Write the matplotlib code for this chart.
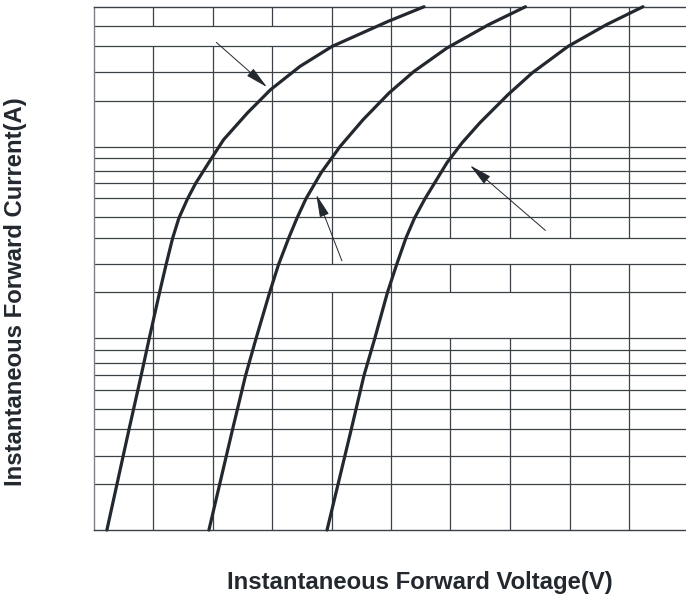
import matplotlib.pyplot as plt
from matplotlib.patches import Rectangle
from matplotlib.ticker import NullLocator

plt.rcParams['font.family'] = ['Liberation Sans', 'DejaVu Sans']

# ----------------------------
# Curves (forward voltage V, forward current A)
# ----------------------------
curve1_v = [0.045, 0.119, 0.160, 0.187, 0.222, 0.244, 0.266, 0.287, 0.316,
            0.343, 0.387, 0.437, 0.518, 0.595, 0.694, 0.802, 0.990, 1.111]
curve1_i = [0.1, 0.333, 0.639, 0.994, 1.735, 2.429, 3.336, 4.243, 5.35,
            6.43, 8.25, 10.88, 15.05, 19.85, 26.27, 33.41, 45.11, 53.8]

curve2_v = [0.388, 0.467, 0.511, 0.546, 0.592, 0.622, 0.656, 0.684, 0.714,
            0.765, 0.829, 0.906, 0.993, 1.077, 1.188, 1.328, 1.452]
curve2_i = [0.1, 0.333, 0.639, 0.994, 1.735, 2.429, 3.336, 4.243, 5.35,
            7.315, 10.04, 13.84, 19.07, 24.73, 32.76, 43.36, 53.8]

curve3_v = [0.785, 0.866, 0.909, 0.945, 0.988, 1.019, 1.050, 1.079, 1.114,
            1.188, 1.239, 1.299, 1.393, 1.474, 1.595, 1.724, 1.847]
curve3_i = [0.1, 0.333, 0.639, 0.994, 1.735, 2.429, 3.336, 4.243, 5.35,
            8.25, 10.49, 13.35, 18.68, 24.26, 33.41, 43.36, 53.8]

# pointer arrows (no text on them in the source)
arrow_tail_v = [0.413, 0.835, 1.519]
arrow_tail_i = [35.05, 2.54, 3.66]
arrow_tip_v = [0.583, 0.749, 1.266]
arrow_tip_i = [20.5, 5.62, 7.99]

# grid of the datasheet paper
X_GRID = [0.2, 0.4, 0.6, 0.8, 1.0, 1.2, 1.4, 1.6, 1.8]
DECADES = [0.1, 1.0, 10.0]
MANTISSA = [1.738, 2.443, 3.350, 4.285, 5.383, 6.457, 7.482, 8.690]
Y_MIN, Y_MAX = 0.1, 53.83

# blank patches where the original tick labels were removed: (v0, v1, i0, i1)
blank_boxes = [
    (0.003, 0.75, 33.50, 42.85),
    (1.005, 2.10, 2.443, 3.350),
    (0.70, 0.995, 1.738, 2.443),
    (1.10, 1.595, 1.0, 1.738),
]

LINE = '#23282f'
GRID = '#3c4047'

# ----------------------------
# Plotting
# ----------------------------
W, H = 686, 596
fig = plt.figure(figsize=(W / 100, H / 100), dpi=100)
ax = fig.add_axes([93.5 / W, 66 / H, 595 / W, 523.3 / H])
ax.set_yscale('log')
ax.set_xlim(0, 2.0)
ax.set_ylim(Y_MIN, Y_MAX)

for xv in X_GRID:
    ax.axvline(xv, color=GRID, lw=0.9, zorder=1)

for v0, v1, i0, i1 in blank_boxes:
    ax.add_patch(Rectangle((v0, i0), v1 - v0, i1 - i0, facecolor='white',
                           edgecolor='none', zorder=1.5))

for d in DECADES:
    for m in [1.0] + MANTISSA:
        yv = d * m
        if Y_MIN < yv < Y_MAX:
            ax.axhline(yv, color=GRID, lw=0.9, zorder=2)

for vs, cs in [(curve1_v, curve1_i), (curve2_v, curve2_i), (curve3_v, curve3_i)]:
    ax.plot(vs, cs, color=LINE, lw=2.3, solid_capstyle='round',
            solid_joinstyle='round', zorder=3, clip_on=False)

for tv, ti, hv, hi in zip(arrow_tail_v, arrow_tail_i, arrow_tip_v, arrow_tip_i):
    ax.annotate('', xy=(hv, hi), xytext=(tv, ti),
                arrowprops=dict(arrowstyle='-|>,head_length=1.4,head_width=0.3',
                                mutation_scale=10, color=LINE, lw=0.7,
                                shrinkA=0, shrinkB=0), zorder=4)

ax.xaxis.set_major_locator(NullLocator())
ax.xaxis.set_minor_locator(NullLocator())
ax.yaxis.set_major_locator(NullLocator())
ax.yaxis.set_minor_locator(NullLocator())
ax.spines['left'].set_color('#7d8187')
for s in ['top', 'bottom', 'right']:
    ax.spines[s].set_color(GRID)
for s in ax.spines.values():
    s.set_linewidth(1.0)

fig.text(420 / W, 1 - 582 / H, 'Instantaneous Forward Voltage(V)',
         ha='center', va='center', fontsize=17.2, fontweight='bold', color='#23282f')
fig.text(16 / W, 1 - 292 / H, 'Instantaneous Forward Current(A)',
         ha='center', va='center', rotation=90, fontsize=17.2, fontweight='bold',
         color='#23282f')

fig.savefig('out.png', dpi=100)
